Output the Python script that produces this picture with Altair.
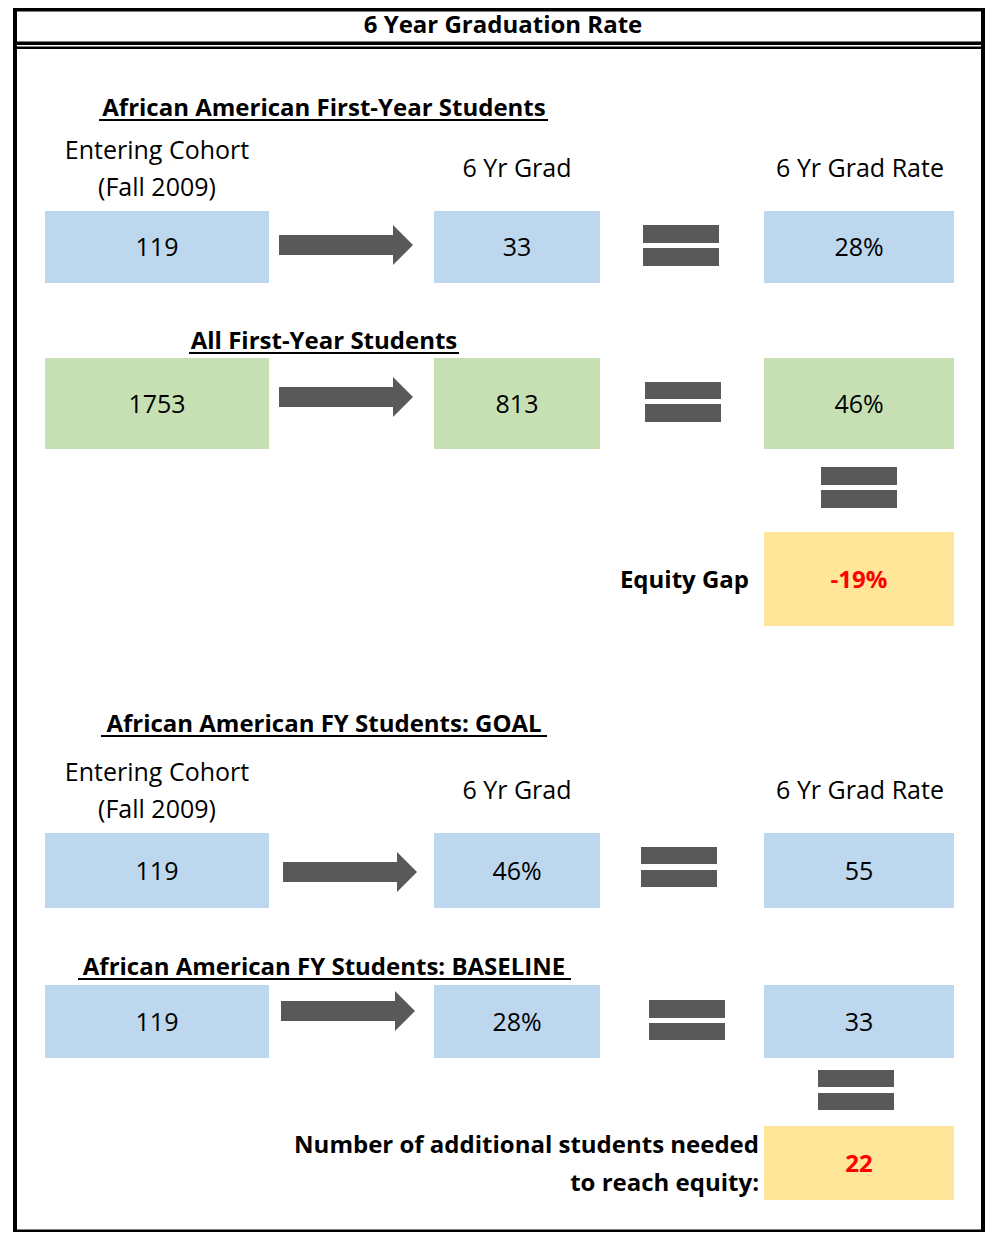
import altair as alt
import pandas as pd

# ---------------- content ----------------
title = "6 Year Graduation Rate"
headings = ["African American First-Year Students", "All First-Year Students",
            "African American FY Students: GOAL", "African American FY Students: BASELINE"]
col_headers = ["Entering Cohort", "(Fall 2009)", "6 Yr Grad", "6 Yr Grad Rate"]
aa_first_year = ["119", "33", "28%"]
all_first_year = ["1753", "813", "46%"]
aa_goal = ["119", "46%", "55"]
aa_baseline = ["119", "28%", "33"]
gap_label = "Equity Gap"
gap_value = "-19%"
need_label = ["Number of additional students needed", "to reach equity:"]
need_value = "22"

# ---------------- layout (page pixels) ----------------
BLUE, GREEN, YELLOW, GREY, BLACK, RED = "#BDD7EE", "#C6E0B4", "#FFE699", "#595959", "#000000", "#FF0000"
FONT = "Open Sans"
FS_BOLD = 24
FS_REG = 25
col_x = [(45, 269), (434, 600), (764, 954)]
row_y = [(211, 283), (358, 449), (833, 908), (985, 1058)]
row_fill = [BLUE, GREEN, BLUE, BLUE]
row_vals = [aa_first_year, all_first_year, aa_goal, aa_baseline]
# arrow: shaft start, shaft end, tip, centre y
arrows = [(279, 393, 413, 245), (279, 393, 413, 397), (283, 397, 417, 872), (281, 395, 415, 1011)]
# equals: x0, x1, bar1 y0, bar1 y1, bar2 y0, bar2 y1
equals = [(643, 719, 225, 243, 248, 266), (645, 721, 382, 399, 404, 422),
          (641, 717, 847, 864, 870, 887), (649, 725, 1000, 1018, 1023, 1040),
          (821, 897, 467, 485, 490, 508), (818, 894, 1070, 1087, 1093, 1110)]
head_cx = 324
head_base = [116, 349, 732, 975]
head_under = [(99, 548), (189, 459), (101, 547), (78, 571)]
gap_box = (764, 954, 532, 626)
need_box = (764, 954, 1126, 1200)

rects = []
# frame
rects += [(13, 17, 8, 1232, BLACK), (13, 985, 8, 11.5, BLACK), (981, 985, 8, 1232, BLACK),
          (13, 985, 1229.5, 1232, BLACK), (13, 985, 41.5, 45, BLACK), (13, 985, 46.5, 49, BLACK)]
for (y0, y1), fill in zip(row_y, row_fill):
    for (x0, x1) in col_x:
        rects.append((x0, x1, y0, y1, fill))
rects.append(gap_box + (YELLOW,))
rects.append(need_box + (YELLOW,))
for (x0, se, tip, c) in arrows:
    rects.append((x0, se + 0.5, c - 10, c + 10, GREY))
for (x0, x1, a0, a1, b0, b1) in equals:
    rects.append((x0, x1, a0, a1, GREY))
    rects.append((x0, x1, b0, b1, GREY))
for b, (u0, u1) in zip(head_base, head_under):
    rects.append((u0, u1, b + 3, b + 5, BLACK))
rect_df = pd.DataFrame(rects, columns=["x", "x2", "y", "y2", "fill"])

tri = []
for i, (x0, se, tip, c) in enumerate(arrows):
    tri.append((i, se, c - 20, c + 20))
    tri.append((i, tip, c, c))
tri_df = pd.DataFrame(tri, columns=["id", "x", "y", "y2"])

reg = []
for r in (0, 2):
    top = row_y[r][0]
    reg.append((col_headers[0], 157, top - 52))
    reg.append((col_headers[1], 157, top - 15))
    reg.append((col_headers[2], 517, top - 34))
    reg.append((col_headers[3], 860, top - 34))
for (y0, y1), vals in zip(row_y, row_vals):
    for (x0, x1), v in zip(col_x, vals):
        reg.append((v, (x0 + x1) / 2, (y0 + y1) / 2 + 9))
reg_df = pd.DataFrame(reg, columns=["text", "x", "y"])

boldc = [(title, 503, 33, BLACK)]
for h, b in zip(headings, head_base):
    boldc.append((h, head_cx, b, BLACK))
boldc.append((gap_value, (gap_box[0] + gap_box[1]) / 2, (gap_box[2] + gap_box[3]) / 2 + 8.5, RED))
boldc.append((need_value, (need_box[0] + need_box[1]) / 2, (need_box[2] + need_box[3]) / 2 + 8.5, RED))
boldc_df = pd.DataFrame(boldc, columns=["text", "x", "y", "c"])

boldr = [(gap_label, 749, 588), (need_label[0], 759, 1153), (need_label[1], 759, 1191)]
boldr_df = pd.DataFrame(boldr, columns=["text", "x", "y"])

xs = alt.Scale(domain=[8, 985], nice=False, zero=False)
ys = alt.Scale(domain=[8, 1232], nice=False, zero=False, reverse=True)
X = alt.X("x:Q", scale=xs, axis=None)
Y = alt.Y("y:Q", scale=ys, axis=None)

rect_layer = alt.Chart(rect_df).mark_rect().encode(
    x=X, x2="x2:Q", y=Y, y2="y2:Q", color=alt.Color("fill:N", scale=None))
tri_layer = alt.Chart(tri_df).mark_area(color=GREY, opacity=1).encode(
    x=X, y=Y, y2="y2:Q", detail="id:N")
reg_layer = alt.Chart(reg_df).mark_text(font=FONT, fontSize=FS_REG, align="center",
                                        baseline="alphabetic", color=BLACK).encode(
    x=X, y=Y, text="text:N")
boldc_layer = alt.Chart(boldc_df).mark_text(font=FONT, fontSize=FS_BOLD, fontWeight="bold",
                                            align="center", baseline="alphabetic").encode(
    x=X, y=Y, text="text:N", color=alt.Color("c:N", scale=None))
boldr_layer = alt.Chart(boldr_df).mark_text(font=FONT, fontSize=FS_BOLD, fontWeight="bold",
                                            align="right", baseline="alphabetic", color=BLACK).encode(
    x=X, y=Y, text="text:N")

chart = alt.layer(rect_layer, tri_layer, reg_layer, boldc_layer, boldr_layer).properties(
    width=977, height=1224, padding=0, autosize=alt.AutoSizeParams(type="none"),
    background="white"
).configure_view(stroke=None)

chart.save("out.html", embed_options={"renderer": "svg", "actions": False})
